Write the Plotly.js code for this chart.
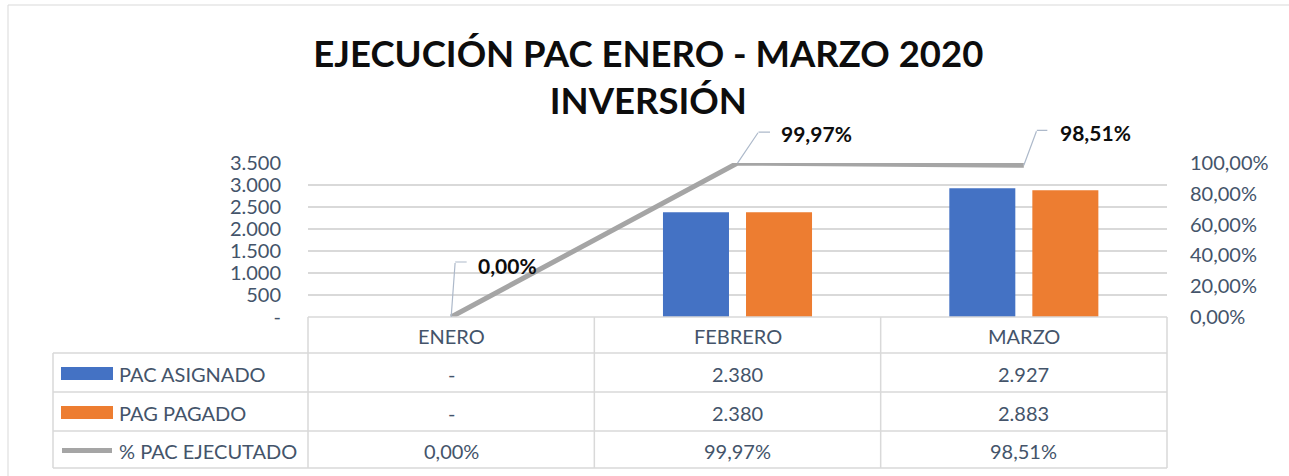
<!DOCTYPE html>
<html>
<head>
<meta charset="utf-8">
<script src="https://cdn.plot.ly/plotly-3.0.1.min.js"></script>
<style>html,body{margin:0;padding:0;background:#fff;}#chart{width:1289px;height:476px;}</style>
</head>
<body>
<div id="chart"></div>
<script>
// ---- data ----
const categories = ["ENERO", "FEBRERO", "MARZO"];
const pacAsignado = [0, 2380, 2927];
const pagPagado = [0, 2380, 2883];
const pctEjecutado = [0, 0.9997, 0.9851];
const seriesNames = ["PAC ASIGNADO", "PAG PAGADO", "% PAC EJECUTADO"];
const leftTicks = [0, 500, 1000, 1500, 2000, 2500, 3000, 3500];
const rightTicks = [0, 0.2, 0.4, 0.6, 0.8, 1.0];
const titleText = "EJECUCIÓN PAC ENERO - MARZO 2020<br>INVERSIÓN";

// ---- formatting ----
function fmtNum(v) {
  if (v === 0) return "-";
  return Math.round(v).toString().replace(/\B(?=(\d{3})+(?!\d))/g, ".");
}
function fmtPct(v) { return (v * 100).toFixed(2).replace(".", ",") + "%"; }

// ---- style ----
const W = 1289, H = 476;
const M = {l: 308, r: 122, t: 163, b: 159};
const PW = W - M.l - M.r, PH = H - M.t - M.b;
const BLUE = "#4472C4", ORANGE = "#ED7D31", GRAY = "#A5A5A5";
const TXT = "#44546A", GRID = "#D9D9D9", LEADER = "#ADB9CA";
const FONT = "Lato, 'Open Sans', sans-serif";
const px2x = p => (p - M.l) / PW;
const py2y = p => (H - M.b - p) / PH;

const traces = [
  {type: "bar", name: seriesNames[0], x: categories, y: pacAsignado, marker: {color: BLUE}, yaxis: "y", hoverinfo: "skip"},
  {type: "bar", name: seriesNames[1], x: categories, y: pagPagado, marker: {color: ORANGE}, yaxis: "y", hoverinfo: "skip"},
  {type: "scatter", mode: "lines", name: seriesNames[2], x: categories, y: pctEjecutado, yaxis: "y2",
   line: {color: GRAY, width: 5}, hoverinfo: "skip"}
];

const shapes = [];
const annotations = [];

// outer chart border
shapes.push({type: "rect", xref: "paper", yref: "paper", x0: px2x(8), x1: px2x(1320), y0: py2y(5), y1: py2y(500),
  line: {color: GRID, width: 1}, fillcolor: "rgba(0,0,0,0)", layer: "below"});

// data table geometry (pixels)
const rowY = [317, 353, 392, 431, 468];
const tableLeft = 53;
const nCat = categories.length;
const colX = categories.map((c, i) => M.l + PW * i / nCat).concat([M.l + PW]);

function hline(x0, x1, y) {
  shapes.push({type: "line", xref: "paper", yref: "paper", x0: px2x(x0), x1: px2x(x1), y0: py2y(y), y1: py2y(y), line: {color: GRID, width: 1.5}});
}
function vline(x, y0, y1) {
  shapes.push({type: "line", xref: "paper", yref: "paper", x0: px2x(x), x1: px2x(x), y0: py2y(y0), y1: py2y(y1), line: {color: GRID, width: 1.5}});
}
hline(M.l, colX[nCat], rowY[0]);
for (let r = 1; r < rowY.length; r++) hline(tableLeft, colX[nCat], rowY[r]);
vline(tableLeft, rowY[1], rowY[4]);
colX.forEach(x => vline(x, rowY[0], rowY[4]));

function cellText(txt, xpx, ypx, anchor) {
  annotations.push({xref: "paper", yref: "paper", x: px2x(xpx), y: py2y(ypx), text: txt, showarrow: false,
    xanchor: anchor || "center", yanchor: "middle", font: {family: FONT, size: 20, color: TXT}});
}
// header
categories.forEach((c, i) => cellText(c, (colX[i] + colX[i + 1]) / 2, (rowY[0] + rowY[1]) / 2 + 1));
// rows
const rowsData = [pacAsignado.map(fmtNum), pagPagado.map(fmtNum), pctEjecutado.map(fmtPct)];
rowsData.forEach((vals, r) => {
  const yc = (rowY[r + 1] + rowY[r + 2]) / 2 + 1;
  vals.forEach((v, i) => cellText(v, (colX[i] + colX[i + 1]) / 2, yc));
  cellText(seriesNames[r], 117, yc, "left");
});
// legend keys in table
[BLUE, ORANGE].forEach((col, r) => {
  const yc = (rowY[r + 1] + rowY[r + 2]) / 2 + 1;
  shapes.push({type: "rect", xref: "paper", yref: "paper", x0: px2x(61), x1: px2x(113), y0: py2y(yc - 6.5), y1: py2y(yc + 6.5),
    line: {width: 0}, fillcolor: col});
});
{
  const yc = (rowY[3] + rowY[4]) / 2 + 1;
  shapes.push({type: "line", xref: "paper", yref: "paper", x0: px2x(62), x1: px2x(112), y0: py2y(yc), y1: py2y(yc),
    line: {color: GRAY, width: 5}});
}

// data labels with elbow leader lines on the % line (pixel offsets: up dx/dy, then horizontal)
const leaderUp = [[4, 55], [21, 31], [13, 35]];
const leaderRun = [12, 12, 11];
const labelOffsets = [[25, 52], [41, 30], [34, 33]];
const tiny = {family: FONT, size: 1, color: "rgba(0,0,0,0)"};
pctEjecutado.forEach((v, i) => {
  const [ux, uy] = leaderUp[i];
  annotations.push({xref: "x", yref: "y2", x: i, y: v, text: " ", font: tiny, borderpad: 0,
    showarrow: true, arrowhead: 0, arrowwidth: 1.2, arrowcolor: LEADER, standoff: 0, ax: ux, ay: -uy});
  annotations.push({xref: "x", yref: "y2", x: i, y: v, xshift: ux, yshift: uy, text: " ", font: tiny, borderpad: 0,
    showarrow: true, arrowhead: 0, arrowwidth: 1.2, arrowcolor: LEADER, standoff: 0, ax: leaderRun[i], ay: 0});
  annotations.push({xref: "x", yref: "y2", x: i, y: v, text: "<b>" + fmtPct(v) + "</b>", showarrow: false,
    xanchor: "left", yanchor: "middle", xshift: labelOffsets[i][0], yshift: labelOffsets[i][1],
    font: {family: FONT, size: 21, color: "#0D0D0D"}});
});

const layout = {
  width: W, height: H,
  margin: M,
  paper_bgcolor: "#FFFFFF", plot_bgcolor: "#FFFFFF",
  showlegend: false,
  title: {text: "<b>" + titleText + "</b>", x: 0.503, xref: "container", y: 1 - 67 / H, yref: "container", yanchor: "top",
    font: {family: FONT, size: 36.5, color: "#0D0D0D"}},
  barmode: "group", bargap: 0.42, bargroupgap: 0.205,
  xaxis: {type: "category", range: [-0.5, 2.5], showticklabels: false, showgrid: false, zeroline: false, showline: false, fixedrange: true},
  yaxis: {range: [0, 3500], tickvals: leftTicks, ticktext: leftTicks.map(fmtNum), showgrid: true, gridcolor: GRID, gridwidth: 1.3,
    zeroline: false, showline: false, ticks: "", ticklabelstandoff: 26, tickfont: {family: FONT, size: 20, color: TXT}},
  yaxis2: {range: [0, 1], overlaying: "y", side: "right", tickvals: rightTicks, ticktext: rightTicks.map(fmtPct),
    showgrid: false, zeroline: false, showline: false, ticks: "", ticklabelstandoff: 22, tickfont: {family: FONT, size: 20, color: TXT}},
  shapes: shapes,
  annotations: annotations
};

Plotly.newPlot("chart", traces, layout, {staticPlot: true, displayModeBar: false});
</script>
</body>
</html>
